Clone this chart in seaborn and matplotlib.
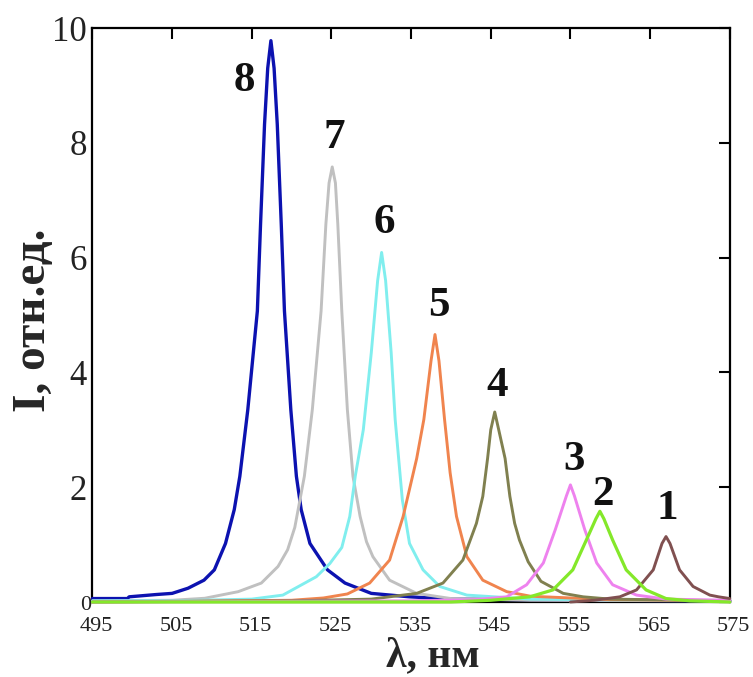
import numpy as np
import pandas as pd
import seaborn as sns
import matplotlib
matplotlib.use("Agg")
import matplotlib.pyplot as plt
from matplotlib.transforms import ScaledTranslation

# ---- data ----
curve_names = ["1", "2", "3", "4", "5", "6", "7", "8"]

x1 = [555, 558, 561.2, 563.3, 565.4, 566.5, 567.0, 567.5, 568.7, 570.4, 572.5, 573.6, 575]
y1 = [0.0, 0.03, 0.09, 0.21, 0.56, 1.02, 1.14, 1.02, 0.56, 0.27, 0.12, 0.09, 0.06]

x2 = [495, 540, 545, 549.9, 552.8, 555.3, 557.0, 558.2, 558.7, 559.2, 560.3, 562.0, 564.5, 567.0, 570, 575]
y2 = [0.0, 0.0, 0.03, 0.09, 0.21, 0.56, 1.08, 1.45, 1.58, 1.45, 1.08, 0.56, 0.21, 0.06, 0.02, 0.0]

x3 = [495, 535, 543, 547.0, 549.5, 551.6, 553.1, 554.5, 555.0, 555.5, 556.8, 558.3, 560.3, 563.3, 567, 575]
y3 = [0.0, 0.02, 0.04, 0.09, 0.30, 0.68, 1.26, 1.85, 2.04, 1.85, 1.26, 0.68, 0.30, 0.12, 0.05, 0.03]

x4 = [495, 520, 530, 535.7, 539.0, 541.5, 543.2, 544.0, 544.6, 545.0, 545.5, 546.0, 546.8,
      547.4, 548.0, 548.6, 549.7, 551.3, 554.1, 556.6, 560, 575]
y4 = [0.0, 0.02, 0.05, 0.15, 0.33, 0.73, 1.37, 1.84, 2.5, 3.0, 3.31, 3.0, 2.5,
      1.84, 1.37, 1.08, 0.70, 0.36, 0.15, 0.09, 0.05, 0.02]

x5 = [495, 520, 524, 527, 529.8, 532.3, 534.0, 535.7, 536.6, 537.5, 538.0, 538.5, 539.2,
      539.6, 539.9, 540.7, 542.0, 544.0, 547.0, 550, 560, 575]
y5 = [0.0, 0.03, 0.07, 0.14, 0.33, 0.73, 1.49, 2.5, 3.18, 4.2, 4.66, 4.2, 3.18,
      2.65, 2.25, 1.49, 0.79, 0.38, 0.18, 0.10, 0.04, 0.02]

x6 = [495, 505, 515, 518.9, 523.1, 524.8, 526.3, 527.3, 528.0, 529.0, 530.0, 530.8, 531.3,
      531.8, 532.5, 533.0, 533.5, 533.9, 534.8, 536.5, 538.6, 542.0, 550, 575]
y6 = [0.02, 0.02, 0.05, 0.12, 0.44, 0.67, 0.95, 1.49, 2.2, 3.0, 4.34, 5.6, 6.09,
      5.6, 4.34, 3.18, 2.4, 1.78, 1.02, 0.56, 0.27, 0.12, 0.05, 0.02]

x7 = [495, 505, 509.1, 513.3, 516.2, 518.3, 519.5, 520.4, 521.6, 522.6, 523.7, 524.3, 524.7,
      525.1, 525.5, 525.8, 526.3, 527.0, 527.7, 528.6, 529.4, 530.2, 532.3, 535.7, 540, 550, 575]
y7 = [0.02, 0.03, 0.065, 0.18, 0.33, 0.62, 0.91, 1.3, 2.19, 3.35, 5.07, 6.58, 7.3,
      7.58, 7.3, 6.58, 5.07, 3.35, 2.19, 1.49, 1.05, 0.79, 0.38, 0.15, 0.06, 0.03, 0.02]

x8 = [495, 499.4, 499.6, 503, 505, 507, 509, 510.3, 511.7, 512.8, 513.5, 514.5, 515.7, 516.1,
      516.6, 517.0, 517.4, 517.8, 518.2, 518.7, 519.1, 519.9, 520.6, 521.2, 522.3, 524.5,
      526.7, 530.0, 534.8, 540, 560, 575]
y8 = [0.06, 0.06, 0.09, 0.13, 0.15, 0.24, 0.38, 0.56, 1.02, 1.61, 2.19, 3.35, 5.07, 6.58,
      8.32, 9.3, 9.78, 9.3, 8.32, 6.58, 5.07, 3.35, 2.19, 1.61, 1.02, 0.56,
      0.33, 0.15, 0.09, 0.05, 0.03, 0.02]

label_x = [567.2, 559.1, 555.4, 545.8, 538.5, 531.6, 525.4, 514.0]
label_y = [1.62, 1.87, 2.48, 3.76, 5.15, 6.61, 8.09, 9.07]

x_ticks = [495, 505, 515, 525, 535, 545, 555, 565, 575]
y_ticks = [0, 2, 4, 6, 8, 10]

xs = [x1, x2, x3, x4, x5, x6, x7, x8]
ys = [y1, y2, y3, y4, y5, y6, y7, y8]

colors = {"1": "#805050", "2": "#84e82a", "3": "#ee82ee", "4": "#80804f",
          "5": "#f0844e", "6": "#80eeee", "7": "#c0c0c0", "8": "#0c12b0"}
widths = {"1": 2.1, "2": 2.3, "3": 2.1, "4": 2.1, "5": 2.1, "6": 2.1, "7": 2.1, "8": 2.4}

frames = []
for name, xv, yv in zip(curve_names, xs, ys):
    frames.append(pd.DataFrame({"wl": xv, "I": yv, "curve": name}))
df = pd.concat(frames, ignore_index=True)

# ---- style ----
sns.set_theme(style="white")
plt.rcParams["font.family"] = ["Liberation Serif", "DejaVu Serif"]

fig = plt.figure(figsize=(7.53, 6.77), dpi=100)
ax = fig.add_axes([0.1228, 0.1108, 0.8463, 0.8478])

draw_order = ["8", "7", "6", "5", "4", "3", "1", "2"]
for name in draw_order:
    sub = df[df["curve"] == name]
    sns.lineplot(data=sub, x="wl", y="I", ax=ax, color=colors[name],
                 linewidth=widths[name], sort=False, estimator=None,
                 legend=False, clip_on=False, zorder=3)

ax.set_xlim(495, 575)
ax.set_ylim(0, 10)
ax.set_xticks(x_ticks)
ax.set_yticks(y_ticks)
ax.set_xticklabels([str(v) for v in x_ticks])
ax.set_yticklabels([str(v) for v in y_ticks])

for s in ax.spines.values():
    s.set_color("black")
    s.set_linewidth(1.6)
    s.set_visible(True)

ax.tick_params(axis="both", direction="in", top=True, right=True,
               length=8, width=1.5, color="black")
ax.tick_params(axis="x", labelsize=16, pad=11, labelcolor="#222222")
ax.tick_params(axis="y", labelsize=25, pad=4, labelcolor="#222222")

# shift x tick labels slightly right like the reference
for lab in ax.get_xticklabels():
    lab.set_transform(lab.get_transform() + ScaledTranslation(4 / 100, 0, fig.dpi_scale_trans))
# the "0" y label is small and sits in the corner
ylabs = ax.get_yticklabels()
ylabs[0].set_fontsize(16)
ylabs[0].set_transform(ylabs[0].get_transform() + ScaledTranslation(4 / 100, -1 / 100, fig.dpi_scale_trans))

ax.set_xlabel("λ, нм", fontsize=30, fontweight="bold", va="baseline")
ax.xaxis.set_label_coords(0.534, -0.1115)
ax.set_ylabel("I, отн.ед.", fontsize=34, fontweight="bold", va="center", ha="center")
ax.yaxis.set_label_coords(-0.092, 0.49)

for name, lx, ly in zip(curve_names, label_x, label_y):
    ax.text(lx, ly, name, fontsize=31, fontweight="bold", ha="center", va="center",
            color="#111111", zorder=5)

fig.savefig("out.png", dpi=100)
